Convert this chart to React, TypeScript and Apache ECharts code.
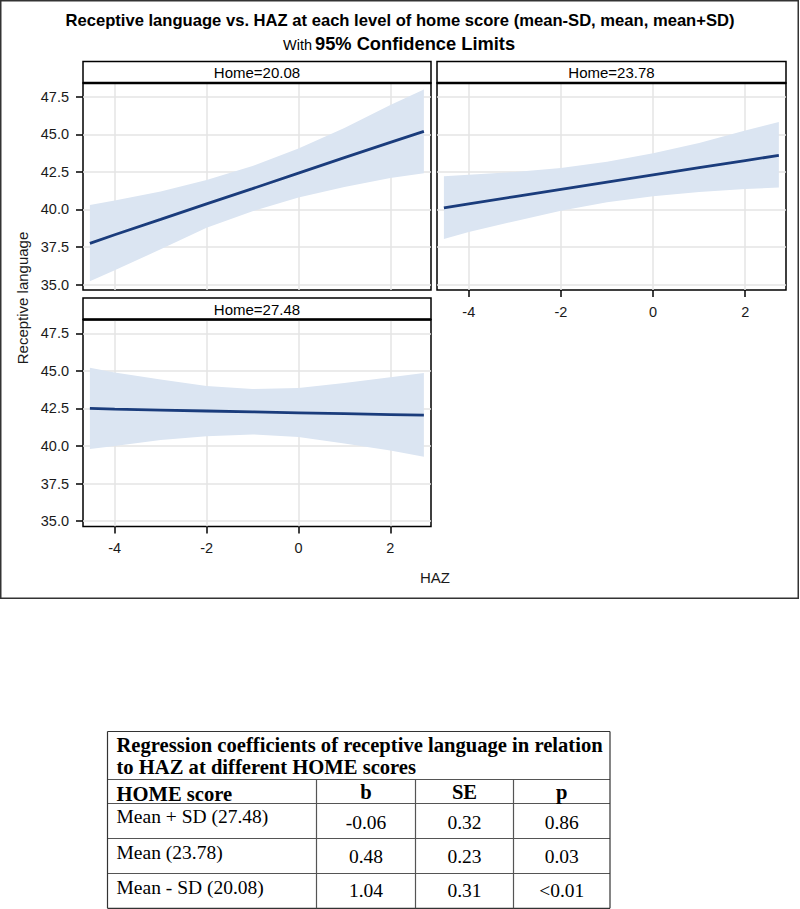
import React, { useEffect, useRef } from 'react';
import * as echarts from 'echarts';

// ---------- data ----------
const HAZ = [-4.54, -4, -3, -2, -1, 0, 1, 2, 2.73];
const PANEL_TITLES = ['Home=20.08', 'Home=23.78', 'Home=27.48'];

const FIT_20 = [37.74, 38.32, 39.34, 40.37, 41.39, 42.42, 43.45, 44.47, 45.2];
const LOWER_20 = [35.22, 35.95, 37.35, 38.79, 39.88, 40.8, 41.5, 42.1, 42.42];
const UPPER_20 = [40.3, 40.6, 41.2, 41.96, 42.89, 44.06, 45.42, 46.95, 47.99];

const FIT_23 = [40.1, 40.38, 40.86, 41.34, 41.82, 42.3, 42.78, 43.26, 43.6];
const LOWER_23 = [38.04, 38.5, 39.22, 39.92, 40.48, 40.88, 41.16, 41.36, 41.46];
const UPPER_23 = [42.22, 42.32, 42.5, 42.76, 43.18, 43.74, 44.42, 45.25, 45.82];

const FIT_27 = [42.5, 42.45, 42.39, 42.33, 42.27, 42.21, 42.15, 42.09, 42.05];
const LOWER_27 = [39.8, 40.0, 40.4, 40.65, 40.77, 40.6, 40.17, 39.7, 39.28];
const UPPER_27 = [45.2, 44.9, 44.43, 44.0, 43.79, 43.86, 44.2, 44.58, 44.86];

const Y_TICKS = [35, 37.5, 40, 42.5, 45, 47.5];
const X_TICKS = [-4, -2, 0, 2];

const TITLE = 'Receptive language vs. HAZ at each level of home score (mean-SD, mean, mean+SD)';
const SUBTITLE_PREFIX = 'With';
const SUBTITLE_BOLD = '95% Confidence Limits';
const X_NAME = 'HAZ';
const Y_NAME = 'Receptive language';

const TABLE_TITLE = [
  'Regression coefficients of receptive language in relation',
  'to HAZ at different HOME scores',
];
const TABLE_HEADER = ['HOME score', 'b', 'SE', 'p'];
const ROW_LABELS = ['Mean + SD (27.48)', 'Mean (23.78)', 'Mean - SD (20.08)'];
const B_VALUES = ['-0.06', '0.48', '1.04'];
const SE_VALUES = ['0.32', '0.23', '0.31'];
const P_VALUES = ['0.86', '0.03', '<0.01'];

// ---------- layout ----------
const SANS = '"Liberation Sans", Arial, sans-serif';
const SERIF = '"Liberation Serif", "Times New Roman", serif';
const GRIDS = [
  { left: 83, top: 83, width: 348, height: 207 },
  { left: 437, top: 83, width: 349, height: 207 },
  { left: 83, top: 319.5, width: 348, height: 207 },
];
const BAND_COLOR = '#dbe5f2';
const LINE_COLOR = '#1a3c7c';
const GRID_LINE = '#e4e4e4';
const TICK_TEXT = '#1a1a1a';

const PANELS = [
  { fit: FIT_20, lower: LOWER_20, upper: UPPER_20 },
  { fit: FIT_23, lower: LOWER_23, upper: UPPER_23 },
  { fit: FIT_27, lower: LOWER_27, upper: UPPER_27 },
];

function buildOption() {
  const xAxis = GRIDS.map((_, i) => ({
    type: 'value',
    gridIndex: i,
    min: -4.69,
    max: 2.885,
    axisLine: { show: false, onZero: false },
    axisTick: {
      show: i > 0,
      customValues: X_TICKS,
      length: 7,
      lineStyle: { color: '#000', width: 1.5 },
    },
    axisLabel: {
      show: i > 0,
      customValues: X_TICKS,
      fontSize: 14.5,
      fontFamily: SANS,
      color: TICK_TEXT,
      margin: 14,
    },
    splitLine: { show: true, lineStyle: { color: GRID_LINE, width: 1.5 } },
  }));
  const yAxis = GRIDS.map((_, i) => ({
    type: 'value',
    gridIndex: i,
    min: 34.64,
    max: 48.42,
    axisLine: { show: false, onZero: false },
    axisTick: {
      show: i !== 1,
      customValues: Y_TICKS,
      length: 7,
      lineStyle: { color: '#000', width: 1.5 },
    },
    axisLabel: {
      show: i !== 1,
      customValues: Y_TICKS,
      formatter: (v: number) => v.toFixed(1),
      fontSize: 14.5,
      fontFamily: SANS,
      color: TICK_TEXT,
      margin: 14,
    },
    splitLine: { show: true, lineStyle: { color: GRID_LINE, width: 1.5 } },
  }));

  const series: any[] = [];
  PANELS.forEach((p, i) => {
    series.push({
      type: 'custom',
      xAxisIndex: i,
      yAxisIndex: i,
      silent: true,
      clip: true,
      z: 1,
      data: [[0, 40]],
      renderItem: (_params: any, api: any) => {
        const up = HAZ.map((x, k) => api.coord([x, p.upper[k]]));
        const lo = HAZ.map((x, k) => api.coord([x, p.lower[k]])).reverse();
        return {
          type: 'polygon',
          shape: { points: up.concat(lo) },
          style: { fill: BAND_COLOR },
        };
      },
    });
    series.push({
      type: 'line',
      xAxisIndex: i,
      yAxisIndex: i,
      z: 3,
      silent: true,
      symbol: 'none',
      showSymbol: false,
      data: HAZ.map((x, k) => [x, p.fit[k]]),
      lineStyle: { color: LINE_COLOR, width: 2.8 },
    });
  });

  const graphic: any[] = [];
  // outer frame
  graphic.push({
    type: 'rect',
    shape: { x: 0.75, y: 0.75, width: 797.5, height: 597.5 },
    style: { fill: 'none', stroke: '#333', lineWidth: 1.5 },
    z: 0,
  });
  // title
  graphic.push({
    type: 'text',
    x: 400,
    y: 20.5,
    style: {
      text: TITLE,
      fontSize: 16.6,
      fontWeight: 'bold',
      fontFamily: SANS,
      fill: '#000',
      align: 'center',
      verticalAlign: 'middle',
    },
  });
  graphic.push({
    type: 'text',
    x: 312,
    y: 44.5,
    style: {
      text: SUBTITLE_PREFIX,
      fontSize: 14.5,
      fontFamily: SANS,
      fill: '#000',
      align: 'right',
      verticalAlign: 'middle',
    },
  });
  graphic.push({
    type: 'text',
    x: 315,
    y: 43.5,
    style: {
      text: SUBTITLE_BOLD,
      fontSize: 18.3,
      fontWeight: 'bold',
      fontFamily: SANS,
      fill: '#000',
      align: 'left',
      verticalAlign: 'middle',
    },
  });
  // panel headers
  GRIDS.forEach((g, i) => {
    const top = g.top - 21.5;
    graphic.push({
      type: 'rect',
      shape: { x: g.left, y: top, width: g.width, height: 21.5 },
      style: { fill: '#fff', stroke: '#000', lineWidth: 1.5 },
      z: 5,
    });
    graphic.push({
      type: 'line',
      shape: { x1: g.left, y1: g.top, x2: g.left + g.width, y2: g.top },
      style: { stroke: '#000', lineWidth: 2.5 },
      z: 6,
    });
    graphic.push({
      type: 'text',
      x: g.left + g.width / 2,
      y: top + 11,
      z: 6,
      style: {
        text: PANEL_TITLES[i],
        fontSize: 15,
        fontFamily: SANS,
        fill: '#000',
        align: 'center',
        verticalAlign: 'middle',
      },
    });
  });
  // axis names
  graphic.push({
    type: 'text',
    x: 435,
    y: 577,
    style: {
      text: X_NAME,
      fontSize: 15,
      fontFamily: SANS,
      fill: TICK_TEXT,
      align: 'center',
      verticalAlign: 'middle',
    },
  });
  graphic.push({
    type: 'text',
    x: 22,
    y: 298,
    rotation: Math.PI / 2,
    style: {
      text: Y_NAME,
      fontSize: 15,
      fontFamily: SANS,
      fill: TICK_TEXT,
      align: 'center',
      verticalAlign: 'middle',
    },
  });

  // ---------- table ----------
  const TL = 107.5;
  const TR = 610;
  const hLines = [731.5, 779.5, 803.5, 838.5, 873.5, 908.3];
  const colX = [316.5, 415.5, 513.5];
  const tableLine = (x1: number, y1: number, x2: number, y2: number, c = '#555') =>
    graphic.push({
      type: 'line',
      shape: { x1, y1, x2, y2 },
      style: { stroke: c, lineWidth: 1.2 },
    });
  hLines.forEach((y, k) => tableLine(TL, y, TR, y, k === 0 || k === hLines.length - 1 ? '#333' : '#555'));
  tableLine(TL, hLines[0], TL, hLines[5], '#333');
  tableLine(TR, hLines[0], TR, hLines[5], '#333');
  colX.forEach((x) => tableLine(x, hLines[1], x, hLines[5]));

  const serifText = (text: string, x: number, y: number, bold: boolean, align: string) =>
    graphic.push({
      type: 'text',
      x,
      y,
      style: {
        text,
        fontSize: bold ? 20.6 : 19.5,
        fontWeight: bold ? 'bold' : 'normal',
        fontFamily: SERIF,
        fill: '#000',
        align,
        verticalAlign: 'middle',
      },
    });
  const textLeft = 116.5;
  serifText(TABLE_TITLE[0], textLeft, 745, true, 'left');
  serifText(TABLE_TITLE[1], textLeft, 767, true, 'left');
  const colCenters = [(colX[0] + colX[1]) / 2, (colX[1] + colX[2]) / 2, (colX[2] + TR) / 2];
  serifText(TABLE_HEADER[0], textLeft, 793.5, true, 'left');
  TABLE_HEADER.slice(1).forEach((h, k) => serifText(h, colCenters[k], 792, true, 'center'));
  const labelY = [816, 852.5, 887];
  const valueY = [822.5, 856, 890.5];
  ROW_LABELS.forEach((lab, r) => {
    serifText(lab, textLeft, labelY[r], false, 'left');
    serifText(B_VALUES[r], colCenters[0], valueY[r], false, 'center');
    serifText(SE_VALUES[r], colCenters[1], valueY[r], false, 'center');
    serifText(P_VALUES[r], colCenters[2], valueY[r], false, 'center');
  });

  return {
    animation: false,
    backgroundColor: '#fff',
    grid: GRIDS.map((g) => ({
      ...g,
      show: true,
      backgroundColor: '#fff',
      borderColor: '#000',
      borderWidth: 1.5,
      containLabel: false,
    })),
    xAxis,
    yAxis,
    series,
    graphic,
  };
}

export default function App() {
  const ref = useRef<HTMLDivElement>(null);
  useEffect(() => {
    if (!ref.current) return;
    const chart = echarts.init(ref.current, null, { renderer: 'svg' });
    chart.setOption(buildOption() as any);
    return () => chart.dispose();
  }, []);
  return (
    <div
      ref={ref}
      style={{ position: 'absolute', left: 0, top: 0, width: 800, height: 909, background: '#fff' }}
    />
  );
}
